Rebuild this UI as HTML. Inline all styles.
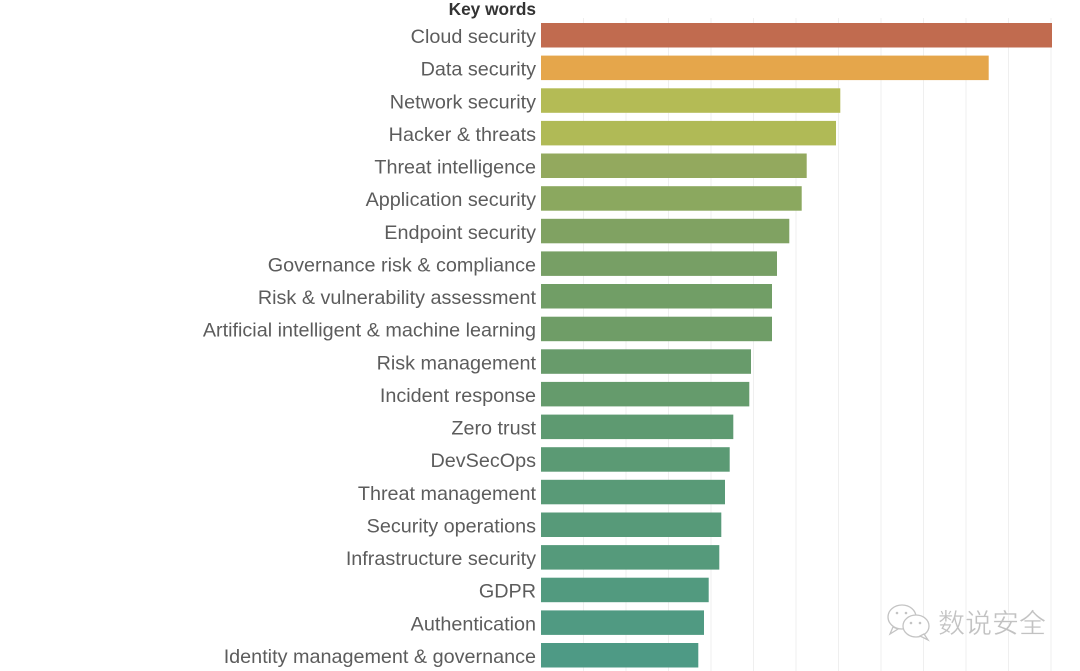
<!DOCTYPE html>
<html><head><meta charset="utf-8"><style>
html,body{margin:0;padding:0;background:#fff;}
body{width:1080px;height:671px;overflow:hidden;position:relative;}
svg{position:absolute;left:0;top:0;}
</style></head><body>
<svg width="1080" height="671" viewBox="0 0 1080 671" xmlns="http://www.w3.org/2000/svg">
<g stroke="#efefef" stroke-width="1">
<line x1="583.5" y1="18" x2="583.5" y2="671"/>
<line x1="626" y1="18" x2="626" y2="671"/>
<line x1="668.5" y1="18" x2="668.5" y2="671"/>
<line x1="711" y1="18" x2="711" y2="671"/>
<line x1="753.5" y1="18" x2="753.5" y2="671"/>
<line x1="796" y1="18" x2="796" y2="671"/>
<line x1="838.5" y1="18" x2="838.5" y2="671"/>
<line x1="881" y1="18" x2="881" y2="671"/>
<line x1="923.5" y1="18" x2="923.5" y2="671"/>
<line x1="966" y1="18" x2="966" y2="671"/>
<line x1="1008.5" y1="18" x2="1008.5" y2="671"/>
<line x1="1051" y1="18" x2="1051" y2="671"/>
</g>
<g>
<rect x="541" y="23" width="511" height="24.5" fill="#c16b4f"/>
<rect x="541" y="55.6" width="447.7" height="24.5" fill="#e5a64b"/>
<rect x="541" y="88.3" width="299.3" height="24.5" fill="#b4bb55"/>
<rect x="541" y="120.9" width="295" height="24.5" fill="#b0ba56"/>
<rect x="541" y="153.5" width="265.7" height="24.5" fill="#93a95e"/>
<rect x="541" y="186.2" width="260.7" height="24.5" fill="#8ba85f"/>
<rect x="541" y="218.8" width="248.3" height="24.5" fill="#80a262"/>
<rect x="541" y="251.4" width="236" height="24.5" fill="#779f65"/>
<rect x="541" y="284.0" width="231" height="24.5" fill="#719e66"/>
<rect x="541" y="316.7" width="231" height="24.5" fill="#6f9d67"/>
<rect x="541" y="349.3" width="210" height="24.5" fill="#689b6b"/>
<rect x="541" y="381.9" width="208.3" height="24.5" fill="#659b6c"/>
<rect x="541" y="414.6" width="192.3" height="24.5" fill="#5e9a71"/>
<rect x="541" y="447.2" width="188.7" height="24.5" fill="#5b9a74"/>
<rect x="541" y="479.8" width="184" height="24.5" fill="#599a77"/>
<rect x="541" y="512.5" width="180.3" height="24.5" fill="#579a79"/>
<rect x="541" y="545.1" width="178.3" height="24.5" fill="#559a7b"/>
<rect x="541" y="577.7" width="167.7" height="24.5" fill="#529a7f"/>
<rect x="541" y="610.4" width="163" height="24.5" fill="#509a82"/>
<rect x="541" y="643.0" width="157.3" height="24.5" fill="#4e9a85"/>
</g>
<text x="536" y="15" text-anchor="end" font-family="Liberation Sans, sans-serif" font-weight="bold" font-size="17.3" fill="#333">Key words</text>
<g font-family="Liberation Sans, sans-serif" font-size="19.8" fill="#5c5c5c" text-anchor="end">
<text x="536" y="43">Cloud security</text>
<text x="536" y="75.6">Data security</text>
<text x="536" y="108.3">Network security</text>
<text x="536" y="140.9">Hacker &amp; threats</text>
<text x="536" y="173.5">Threat intelligence</text>
<text x="536" y="206.2">Application security</text>
<text x="536" y="238.8">Endpoint security</text>
<text x="536" y="271.4">Governance risk &amp; compliance</text>
<text x="536" y="304.0">Risk &amp; vulnerability assessment</text>
<text x="536" y="336.7">Artificial intelligent &amp; machine learning</text>
<text x="536" y="369.3">Risk management</text>
<text x="536" y="401.9">Incident response</text>
<text x="536" y="434.6">Zero trust</text>
<text x="536" y="467.2">DevSecOps</text>
<text x="536" y="499.8">Threat management</text>
<text x="536" y="532.5">Security operations</text>
<text x="536" y="565.1">Infrastructure security</text>
<text x="536" y="597.7">GDPR</text>
<text x="536" y="630.4">Authentication</text>
<text x="536" y="663.0">Identity management &amp; governance</text>
</g>
<g fill="#fff" stroke="#c4c4c4" stroke-width="1.3">
<ellipse cx="902" cy="617" rx="14" ry="12"/>
<path d="M893 627 L890 634 L898 629 Z"/>
<ellipse cx="916" cy="626" rx="13" ry="11"/>
<path d="M924 634 L928 640 L920 636 Z"/>
</g>
<g fill="#c4c4c4">
<circle cx="897" cy="613" r="1.3"/><circle cx="906" cy="613" r="1.3"/>
<circle cx="911" cy="623" r="1.3"/><circle cx="920" cy="623" r="1.3"/>
</g>
<text x="938" y="633" font-family="Noto Sans CJK SC, sans-serif" font-size="27" fill="#c2c2c2" stroke="#fff" stroke-width="0.4">数说安全</text>
</svg>
</body></html>
